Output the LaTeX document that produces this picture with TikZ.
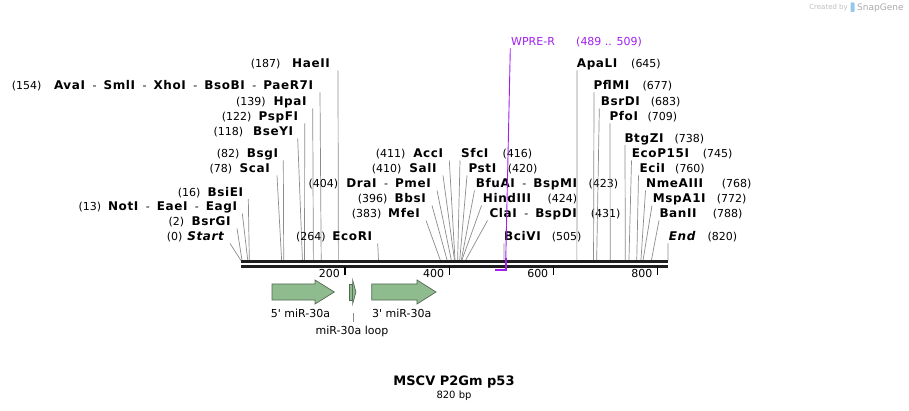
\documentclass[tikz,border=0pt]{standalone}
\usepackage{fontspec}
\setmainfont{DejaVu Sans}[Ligatures=TeXOff]
\definecolor{cutgray}{RGB}{140,140,140}
\definecolor{featfill}{RGB}{143,188,143}
\definecolor{featdraw}{RGB}{85,105,85}
\definecolor{primer}{RGB}{161,32,240}
\definecolor{bbone}{RGB}{30,30,30}
\definecolor{wmgray}{RGB}{190,190,190}
\definecolor{wmblue}{RGB}{150,200,235}
\tikzset{
  num/.style={inner sep=0pt,font=\fontsize{11}{13}\selectfont},
  nm/.style={inner sep=0pt,font=\bfseries\fontsize{12}{14}\selectfont\addfontfeature{LetterSpace=5}},
  cut/.style={draw=cutgray,line width=0.7pt},
  feat/.style={fill=featfill,draw=featdraw,line width=0.7pt,line join=miter},
  flab/.style={inner sep=0pt,font=\fontsize{11}{13}\selectfont,anchor=base},
  tick/.style={draw=black,line width=1.6pt},
  ticklab/.style={inner sep=0pt,font=\fontsize{11}{13}\selectfont,anchor=base east}
}
\newcommand\sepd{{\mdseries\fontsize{11}{13}\selectfont\hspace{7.5pt}-\hspace{7pt}}}
% left label: id, number x, name end x, baseline, bp, name, line x
\newcommand\Lsite[7]{%
  \node[num,anchor=base west] (p#1) at (#2,#4) {(#5)};
  \node[nm,anchor=base east] (n#1) at (#3,#4) {#6};
  \coordinate (a#1) at (#7,{#4+2.5});
  \coordinate (s#1) at ({241+#5*0.520732},260.5);
  \draw[cut] (a#1) -- (s#1);
}
% right label: id, name start x, number x, baseline, bp, name, line x
\newcommand\Rsite[7]{%
  \node[nm,anchor=base west] (n#1) at (#2,#4) {#6};
  \node[num,anchor=base west] (p#1) at (#3,#4) {(#5)};
  \coordinate (a#1) at (#7,{#4+2.5});
  \coordinate (s#1) at ({241+#5*0.520732},260.5);
  \draw[cut] (a#1) -- (s#1);
}
\begin{document}
\begin{tikzpicture}[x=1pt,y=-1pt]
\path[use as bounding box,fill=white] (0,0) rectangle (909,411);

% watermark
\node[inner sep=0pt,anchor=base east,font=\fontsize{7}{8}\selectfont,text=wmgray] (wm1) at (848,10) {Created by};
\fill[wmblue,rounded corners=0.8pt] (850.5,2.5) rectangle (854.5,12);
\node[inner sep=0pt,anchor=base west,font=\fontsize{9}{10}\selectfont,text=wmgray!90!black] (wm2) at (857,11) {SnapGene};

% left labels
\Lsite{HaeII}{250.7}{330}{68}{187}{HaeII}{338}
\Lsite{AvaI}{11.7}{313.3}{90}{154}{AvaI\sepd SmlI\sepd XhoI\sepd BsoBI\sepd PaeR7I}{320}
\Lsite{HpaI}{236}{306.7}{106}{139}{HpaI}{312.7}
\Lsite{PspFI}{221.7}{298.3}{121}{122}{PspFI}{304.7}
\Lsite{BseYI}{213.3}{293.3}{136}{118}{BseYI}{297.7}
\Lsite{BsgI}{216.7}{278.3}{158}{82}{BsgI}{283.3}
\Lsite{ScaI}{209.3}{270}{173}{78}{ScaI}{277}
\Lsite{BsiEI}{177.7}{243.3}{196.5}{16}{BsiEI}{248.3}
\Lsite{NotI}{78.3}{237.3}{211}{13}{NotI\sepd EaeI\sepd EagI}{242.3}
\Lsite{BsrGI}{168.3}{230.7}{226}{2}{BsrGI}{237}
\Lsite{Start}{166.7}{224}{241}{0}{\itshape Start}{230}
\Lsite{EcoRI}{296}{372.3}{241}{264}{EcoRI}{377.7}
\Lsite{AccI}{375.7}{443.3}{158}{411}{AccI}{449.3}
\Lsite{SalI}{371.7}{436.7}{173}{410}{SalI}{443}
\Lsite{DraI}{308.3}{431}{188}{404}{DraI\sepd PmeI}{437}
\Lsite{BbsI}{357.7}{426}{203}{396}{BbsI}{432}
\Lsite{MfeI}{351.7}{420}{218}{383}{MfeI}{426}

% right labels
\Rsite{SfcI}{461}{502.3}{158}{416}{SfcI}{460}
\Rsite{PstI}{468.3}{507.7}{173}{420}{PstI}{467}
\Rsite{BfuAI}{475.7}{588.3}{188}{423}{BfuAI\sepd BspMI}{474.5}
\Rsite{HindIII}{482.7}{547.3}{203}{424}{HindIII}{481.5}
\Rsite{ClaI}{489.3}{590.7}{218}{431}{ClaI\sepd BspDI}{487.5}
\Rsite{BciVI}{504}{551.7}{241}{505}{BciVI}{504}
\Rsite{ApaLI}{576.7}{631}{68}{645}{ApaLI}{577}
\Rsite{PflMI}{593.3}{642.3}{90}{677}{PflMI}{594}
\Rsite{BsrDI}{600.7}{650.7}{106}{683}{BsrDI}{599.3}
\Rsite{PfoI}{609.3}{647.3}{121}{709}{PfoI}{610}
\Rsite{BtgZI}{624.3}{674.3}{142.5}{738}{BtgZI}{625}
\Rsite{EcoP}{631.7}{702.7}{158}{745}{EcoP15I}{631.5}
\Rsite{EciI}{639.3}{675}{173}{760}{EciI}{638.5}
\Rsite{NmeAIII}{646}{721.7}{188}{768}{NmeAIII}{645.5}
\Rsite{MspA}{652.7}{716.7}{203}{772}{MspA1I}{652}
\Rsite{BanII}{659.3}{712.7}{218}{788}{BanII}{659}
\Rsite{End}{668.7}{707.3}{241}{820}{\itshape End}{668}

% backbone
\coordinate (b0) at (241,261.7);
\coordinate (b1) at (668,261.7);
\coordinate (c0) at (241,266.3);
\coordinate (c1) at (668,266.3);
\draw[bbone,line width=2.7pt] (b0) -- (b1);
\draw[bbone,line width=2.7pt] (c0) -- (c1);

% ticks
\foreach \v in {200,400,600,800}{
  \coordinate (t\v) at ({241+\v*0.520732},267);
  \coordinate (u\v) at ({241+\v*0.520732},275);
  \draw[tick] (t\v) -- (u\v);
  \node[ticklab] (tl\v) at ({241+\v*0.520732-5},277.3) {\v};
}

% primer WPRE-R
\node[inner sep=0pt,anchor=base west,font=\fontsize{11}{13}\selectfont,text=primer] (wpre) at (511,45.7) {WPRE-R};
\node[inner sep=0pt,anchor=base west,font=\fontsize{11}{13}\selectfont,text=primer] (wprepos) at (576,45.7) {(489 .. 509)};
\coordinate (pa) at (510.3,48.5);
\coordinate (pm) at (505.7,262);
\coordinate (pn) at (505.7,258);
\coordinate (pb) at (505.7,270.3);
\coordinate (pc) at (495,270.3);
\draw[primer,line width=0.9pt] (pa) -- (pm);
\draw[primer,line width=1.8pt] (pn) -- (pb) -- (pc);

% features
\draw[feat] (272,284) -- (315,284) -- (315,280) -- (334.3,292) -- (315,304) -- (315,300) -- (272,300) -- cycle;
\draw[feat] (349,284) -- (352.6,284) -- (352.6,300) -- (349,300) -- cycle;
\draw[feat] (352.6,280) -- (355.9,292) -- (352.6,304) -- cycle;
\draw[feat] (371.7,284) -- (417,284) -- (417,280) -- (436,292) -- (417,304) -- (417,300) -- (371.7,300) -- cycle;
\node[flab] (f5) at (300.5,317.5) {5' miR-30a};
\node[flab] (f3) at (401.7,317.5) {3' miR-30a};
\node[flab] (fl) at (352,334) {miR-30a loop};
\coordinate (la) at (353.3,313);
\coordinate (lb) at (353.3,322);
\draw[cut] (la) -- (lb);

% title
\node[inner sep=0pt,anchor=base,font=\bfseries\fontsize{13}{15}\selectfont] (title) at (454,385.5) {MSCV P2Gm p53};
\node[inner sep=0pt,anchor=base,font=\fontsize{10}{12}\selectfont] (size) at (454,398.5) {820 bp};
\end{tikzpicture}
\end{document}
